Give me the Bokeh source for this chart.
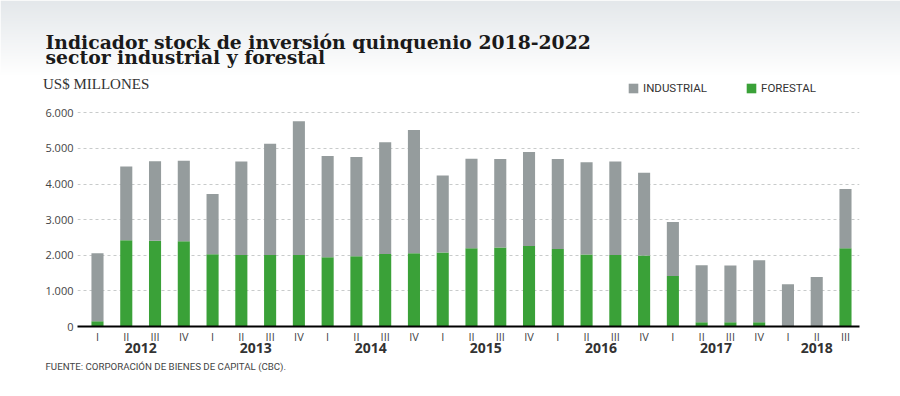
import numpy as np
from bokeh.plotting import figure
from bokeh.layouts import column
from bokeh.models import (ColumnDataSource, Range1d, FixedTicker, LinearAxis,
                          Legend, LegendItem, Label)
from bokeh.embed import file_html
from bokeh.resources import INLINE

# ---------------- data ----------------
years = ["2012", "2013", "2014", "2015", "2016", "2017", "2018"]
quarters_per_year = [4, 4, 4, 4, 4, 4, 3]
roman = ["I", "II", "III", "IV"]

# US$ millones
forestal = [150, 2420, 2410, 2390, 2030, 2010, 2010, 2010, 1945, 1970, 2035, 2055,
            2075, 2200, 2220, 2260, 2175, 2020, 2010, 1990, 1420, 120, 120, 120,
            0, 0, 2195]
industrial = [1910, 2070, 2230, 2260, 1690, 2620, 3120, 3750, 2845, 2790, 3135, 3465,
              2165, 2510, 2480, 2640, 2525, 2590, 2620, 2330, 1515, 1600, 1590, 1740,
              1185, 1390, 1665]

y_ticks = [0, 1000, 2000, 3000, 4000, 5000, 6000]
y_tick_labels = ["0", "1.000", "2.000", "3.000", "4.000", "5.000", "6.000"]

series_labels = ["INDUSTRIAL", "FORESTAL"]
title_lines = ["Indicador stock de inversión quinquenio 2018-2022",
               "sector industrial y forestal"]
unit_text = "US$ MILLONES"
source_text = "FUENTE: CORPORACIÓN DE BIENES DE CAPITAL (CBC)."

# ---------------- derived ----------------
x = list(range(len(forestal)))
q_labels = [roman[i] for n in quarters_per_year for i in range(n)]
year_centers = []
start = 0
for n in quarters_per_year:
    year_centers.append(sum(range(start, start + n)) / n)
    start += n

src = ColumnDataSource(dict(x=x, forestal=forestal, industrial=industrial))

GREEN = "#3aa138"
GREY = "#959c9d"
SANS = "Open Sans"
NARROW = "Roboto"
SERIF = "Liberation Serif"
TITLE_SERIF = "DejaVu Serif"
W = 900


def blank(height):
    f = figure(width=W, height=height, output_backend="svg", toolbar_location=None,
               x_range=Range1d(0, W), y_range=Range1d(height, 0),
               x_axis_type=None, y_axis_type=None,
               min_border_left=0, min_border_right=0, min_border_top=0,
               min_border_bottom=0, frame_align=False)
    f.outline_line_color = None
    f.grid.grid_line_color = None
    f.background_fill_color = "white"
    f.border_fill_color = "white"
    return f


# ---------------- header ----------------
HH = 100
head = blank(HH)
# soft grey-to-white background gradient at the top
g = np.linspace(0.0, 1.0, 75)
img = np.zeros((75, 1), dtype=np.uint32)
view = img.view(dtype=np.uint8).reshape((75, 1, 4))
view[:, 0, 0] = (228 + (255 - 228) * g).astype(np.uint8)
view[:, 0, 1] = (232 + (255 - 232) * g).astype(np.uint8)
view[:, 0, 2] = (235 + (255 - 235) * g).astype(np.uint8)
view[:, 0, 3] = 255
head.image_rgba(image=[img], x=0, y=0, dw=W, dh=75)

for txt, yy in zip(title_lines, [41.5, 56.0]):
    head.add_layout(Label(x=45, y=yy, text=txt, text_font=TITLE_SERIF,
                          text_font_size="18.8px", text_font_style="bold",
                          text_color="#1a1a1a", text_baseline="middle"))
head.add_layout(Label(x=42.5, y=83.3, text=unit_text, text_font=SERIF,
                      text_font_size="15px", text_color="#333333",
                      text_baseline="middle"))

# legend swatches (proxy glyphs kept outside the visible header area)
sw_src = ColumnDataSource(dict(x=[-50], top=[-50]))
sw_ind = head.vbar(x="x", top="top", width=1, source=sw_src, fill_color=GREY,
                   line_color=None)
sw_for = head.vbar(x="x", top="top", width=1, source=sw_src, fill_color=GREEN,
                   line_color=None)
legend = Legend(items=[LegendItem(label=series_labels[0], renderers=[sw_ind]),
                       LegendItem(label=series_labels[1], renderers=[sw_for])],
                location=(627, 5.5), orientation="horizontal",
                glyph_width=12, glyph_height=12, label_standoff=4, spacing=38,
                label_width=62, label_height=12,
                padding=0, margin=0, border_line_color=None,
                background_fill_alpha=0, label_text_font=NARROW,
                label_text_font_size="11.5px", label_text_color="#333333")
head.add_layout(legend)

# ---------------- main chart ----------------
p = figure(width=W, height=260, output_backend="svg", toolbar_location=None,
           x_range=Range1d(-0.695, len(x) - 1 + 0.487), y_range=Range1d(0, 6345),
           min_border_left=77, min_border_right=41, min_border_top=0,
           min_border_bottom=34, frame_align=False)
p.outline_line_color = None
p.background_fill_color = "white"
p.border_fill_color = "white"

rs = p.vbar_stack(["forestal", "industrial"], x="x", width=0.42, source=src,
                  fill_color=[GREEN, GREY], line_color=None)

yax = p.yaxis[0]
yax.ticker = FixedTicker(ticks=y_ticks)
yax.major_label_overrides = dict(zip(y_ticks, y_tick_labels))
yax.axis_line_color = None
yax.major_tick_line_color = None
yax.minor_tick_line_color = None
yax.major_tick_out = 0
yax.major_label_standoff = 4
yax.major_label_text_font = SANS
yax.major_label_text_font_size = "11px"
yax.major_label_text_color = "#444444"

p.ygrid.ticker = FixedTicker(ticks=y_ticks[1:])
p.ygrid.grid_line_color = "#c8cbcb"
p.ygrid.grid_line_dash = "3 3"
p.ygrid.grid_line_width = 1
p.xgrid.grid_line_color = None

xax = p.xaxis[0]
xax.ticker = FixedTicker(ticks=x)
xax.major_label_overrides = dict(zip(x, q_labels))
xax.axis_line_color = "black"
xax.axis_line_width = 2
xax.major_tick_line_color = None
xax.minor_tick_line_color = None
xax.major_tick_out = 0
xax.major_label_standoff = 2
xax.major_label_text_font = SANS
xax.major_label_text_font_size = "11px"
xax.major_label_text_color = "#444444"

yr_ax = LinearAxis(ticker=FixedTicker(ticks=year_centers),
                   major_label_overrides=dict(zip(year_centers, years)),
                   axis_line_color=None, major_tick_line_color=None,
                   minor_tick_line_color=None, major_tick_out=0,
                   major_label_standoff=-4,
                   major_label_text_font=SANS, major_label_text_font_size="14px",
                   major_label_text_font_style="bold",
                   major_label_text_color="#333333")
p.add_layout(yr_ax, "below")

# ---------------- footer ----------------
foot = blank(36)
foot.add_layout(Label(x=45, y=6.2, text=source_text, text_font=NARROW,
                      text_font_size="9.7px", text_color="#444444",
                      text_baseline="middle"))

layout = column(head, p, foot, spacing=0)
open("out.html", "w").write(file_html(layout, INLINE))
